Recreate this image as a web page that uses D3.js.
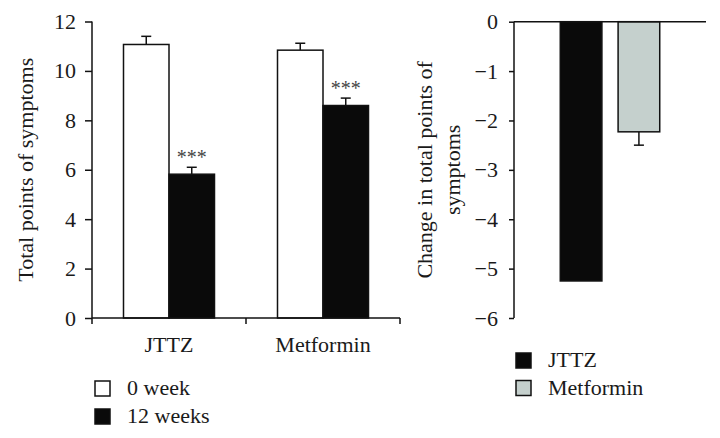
<!DOCTYPE html>
<html>
<head>
<meta charset="utf-8">
<script src="https://cdn.jsdelivr.net/npm/d3@7"></script>
<style>
  body { margin: 0; background: #fff; }
  svg text { font-family: "Liberation Serif", "Times New Roman", serif; fill: #1a1a1a; }
</style>
</head>
<body>
<svg id="chart" width="720" height="438"></svg>
<script>
// ---- data ----
const groups = ["JTTZ", "Metformin"];
const periods = ["0 week", "12 weeks"];
const week0 = [11.07, 10.84];
const week0Err = [0.33, 0.28];
const week12 = [5.82, 8.6];
const week12Err = [0.28, 0.3];
const significance = ["***", "***"];
const leftTicks = [0, 2, 4, 6, 8, 10, 12];

const changeGroups = ["JTTZ", "Metformin"];
const change = [-5.25, -2.23];
const changeErr = [0.0, 0.27];
const rightTicks = [0, -1, -2, -3, -4, -5, -6];

const periodColors = ["#ffffff", "#0a0a0a"];
const changeColors = ["#0a0a0a", "#c5d0cd"];

const svg = d3.select("#chart");
const FS = 22;

// ---- left chart ----
const L = { x0: 92, x1: 400, y0: 318, y1: 21.5 };
const xL = d3.scaleBand().domain(groups).range([L.x0, L.x1]);
const xSub = d3.scaleBand().domain(periods).range([0, 91]);
const yL = d3.scaleLinear().domain([0, 12]).range([L.y0, L.y1]);
const barOff = (xL.bandwidth() - 91) / 2;

const gL = svg.append("g");
const rows = [];
groups.forEach((g, i) => {
  rows.push({ g, p: periods[0], v: week0[i], e: week0Err[i], c: periodColors[0] });
  rows.push({ g, p: periods[1], v: week12[i], e: week12Err[i], c: periodColors[1], sig: significance[i] });
});

// error bars
rows.forEach(d => {
  const cx = xL(d.g) + barOff + xSub(d.p) + xSub.bandwidth() / 2;
  gL.append("line").attr("x1", cx).attr("x2", cx)
    .attr("y1", yL(d.v)).attr("y2", yL(d.v + d.e))
    .attr("stroke", "#111").attr("stroke-width", 1.5);
  gL.append("line").attr("x1", cx - 5).attr("x2", cx + 5)
    .attr("y1", yL(d.v + d.e)).attr("y2", yL(d.v + d.e))
    .attr("stroke", "#111").attr("stroke-width", 1.5);
  if (d.sig) {
    gL.append("text").attr("x", cx).attr("y", yL(d.v + d.e) - 3)
      .attr("text-anchor", "middle").attr("font-size", 20)
      .style("fill", "#444").text(d.sig);
  }
});
gL.selectAll("rect.bar").data(rows).join("rect")
  .attr("x", d => xL(d.g) + barOff + xSub(d.p))
  .attr("width", xSub.bandwidth())
  .attr("y", d => yL(d.v))
  .attr("height", d => yL(0) - yL(d.v))
  .attr("fill", d => d.c)
  .attr("stroke", "#111").attr("stroke-width", 1.5);

// y axis
const yAxisL = gL.append("g").attr("transform", `translate(${L.x0},0)`)
  .call(d3.axisLeft(yL).tickValues(leftTicks).tickSize(7).tickPadding(9));
// x axis
const xAxisL = gL.append("g").attr("transform", `translate(0,${L.y0})`)
  .call(d3.axisBottom(xL).tickSize(0).tickPadding(18));
[L.x0, xL("Metformin"), L.x1].forEach(x => {
  gL.append("line").attr("x1", x).attr("x2", x).attr("y1", L.y0).attr("y2", L.y0 + 6)
    .attr("stroke", "#111").attr("stroke-width", 1.5);
});
[yAxisL, xAxisL].forEach(a => {
  a.select(".domain").attr("stroke", "#111").attr("stroke-width", 1.5);
  a.selectAll(".tick line").attr("stroke", "#111").attr("stroke-width", 1.5);
  a.selectAll(".tick text").attr("font-size", FS).attr("font-family", "Liberation Serif").style("fill", "#1a1a1a");
});
yAxisL.select(".domain").attr("d", `M-0,${L.y1}V${L.y0}`);
xAxisL.select(".domain").attr("d", `M${L.x0},0H${L.x1}`);

gL.append("text")
  .attr("transform", `translate(28,${(L.y0 + L.y1) / 2}) rotate(-90)`)
  .attr("text-anchor", "middle").attr("dominant-baseline", "middle")
  .attr("font-size", FS).text("Total points of symptoms");

// left legend
periods.forEach((p, i) => {
  const y = 381 + i * 28;
  gL.append("rect").attr("x", 95).attr("y", y).attr("width", 15).attr("height", 15)
    .attr("fill", periodColors[i]).attr("stroke", "#111").attr("stroke-width", 1.5);
  gL.append("text").attr("x", 127).attr("y", y + 14).attr("font-size", FS).text(p);
});

// ---- right chart ----
const R = { x0: 514, x1: 706, y0: 21.7, y1: 318 };
const xR = d3.scaleBand().domain(changeGroups).range([R.x0, R.x1]).paddingInner(0.28).paddingOuter(0.8);
const yR = d3.scaleLinear().domain([0, -6]).range([R.y0, R.y1]);
const gR = svg.append("g");

changeGroups.forEach((g, i) => {
  const cx = xR(g) + xR.bandwidth() / 2;
  if (changeErr[i] > 0) {
    gR.append("line").attr("x1", cx).attr("x2", cx)
      .attr("y1", yR(change[i])).attr("y2", yR(change[i] - changeErr[i]))
      .attr("stroke", "#111").attr("stroke-width", 1.5);
    gR.append("line").attr("x1", cx - 5).attr("x2", cx + 5)
      .attr("y1", yR(change[i] - changeErr[i])).attr("y2", yR(change[i] - changeErr[i]))
      .attr("stroke", "#111").attr("stroke-width", 1.5);
  }
});
gR.selectAll("rect.bar").data(changeGroups).join("rect")
  .attr("x", d => xR(d))
  .attr("width", xR.bandwidth())
  .attr("y", yR(0))
  .attr("height", (d, i) => yR(change[i]) - yR(0))
  .attr("fill", (d, i) => changeColors[i])
  .attr("stroke", "#111").attr("stroke-width", 1.5);

const yAxisR = gR.append("g").attr("transform", `translate(${R.x0},0)`)
  .call(d3.axisLeft(yR).tickValues(rightTicks).tickSize(5).tickPadding(11)
    .tickFormat(d => d === 0 ? "0" : "\u2212" + Math.abs(d)));
yAxisR.select(".domain").attr("stroke", "#111").attr("stroke-width", 1.5)
  .attr("d", `M0,${R.y0}V${R.y1}`);
yAxisR.selectAll(".tick line").attr("stroke", "#111").attr("stroke-width", 1.5);
yAxisR.selectAll(".tick text").attr("font-size", FS).attr("font-family", "Liberation Serif").style("fill", "#1a1a1a");
gR.append("line").attr("x1", R.x0).attr("x2", R.x1).attr("y1", R.y0).attr("y2", R.y0)
  .attr("stroke", "#111").attr("stroke-width", 1.5);

const labR = gR.append("text")
  .attr("transform", `translate(432,${(R.y0 + R.y1) / 2 + 0}) rotate(-90)`)
  .attr("text-anchor", "middle").attr("font-size", FS);
labR.append("tspan").attr("x", 0).attr("dy", "0em").text("Change in total points of");
labR.append("tspan").attr("x", 0).attr("dy", "1.27em").text("symptoms");

changeGroups.forEach((g, i) => {
  const y = 353 + i * 27.5;
  gR.append("rect").attr("x", 516).attr("y", y).attr("width", 15).attr("height", 15)
    .attr("fill", changeColors[i]).attr("stroke", "#111").attr("stroke-width", 1.5);
  gR.append("text").attr("x", 548).attr("y", y + 14).attr("font-size", FS).text(g);
});
</script>
</body>
</html>
